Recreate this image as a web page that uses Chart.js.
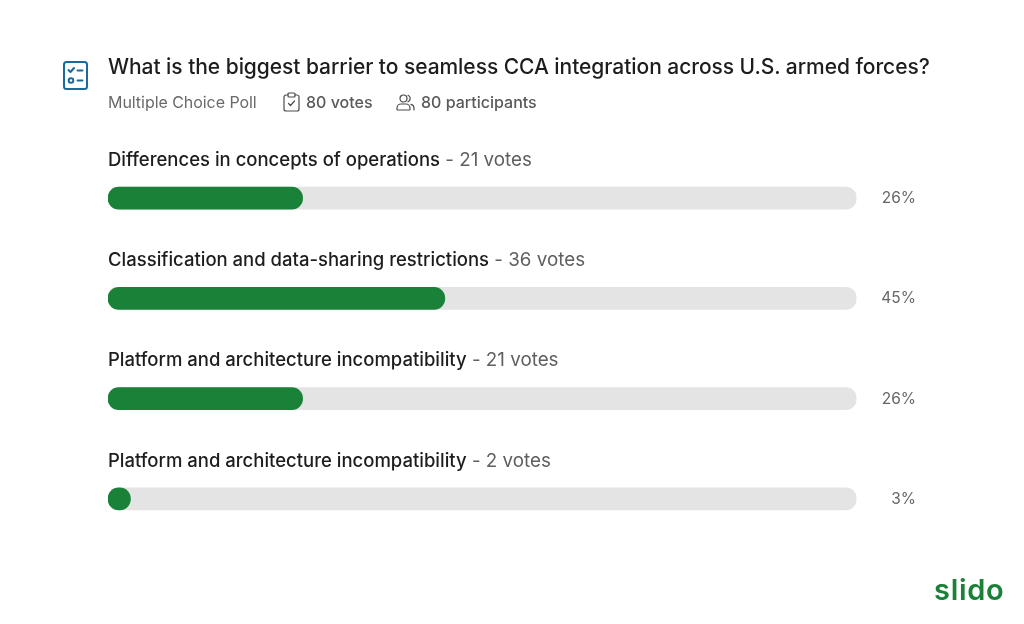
<!DOCTYPE html>
<html><head><meta charset="utf-8">
<style>
html,body{margin:0;padding:0;background:#fff;width:1024px;height:624px;overflow:hidden;font-family:Inter,sans-serif}
#wrap{position:relative;width:1024px;height:624px}
canvas{position:absolute;left:0;top:0}
.t{position:absolute;white-space:nowrap;line-height:1}
svg{position:absolute}
</style>
<script src="https://cdn.jsdelivr.net/npm/chart.js@4"></script>
</head><body><div id="wrap">
<canvas id="c" width="1024" height="624"></canvas>
<svg style="left:62px;top:60px" width="27" height="31" viewBox="0 0 27 31" fill="none" stroke="#1c6a9c" stroke-width="2" stroke-linecap="round" stroke-linejoin="round">
<rect x="2" y="2" width="23" height="27" rx="2.5"/><path d="M6.5 10l2 2 3.5-4M15.5 10.500h5M15.500 20.500h5"/><circle cx="9" cy="20.500" r="2.300"/></svg>
<div class="t" style="left:108px;top:56px;font-size:21px;font-weight:500;letter-spacing:-.05px;color:#1d1d1d">What is the biggest barrier to seamless CCA integration across U.S. armed forces?</div>
<div class="t" style="left:108px;top:94px;font-size:16px;letter-spacing:-.05px;color:#6a6a6a">Multiple Choice Poll</div>
<svg style="left:283px;top:92px" width="17" height="20" viewBox="0 0 17 20" fill="none" stroke="#4a4a4a" stroke-width="1.200" stroke-linecap="round" stroke-linejoin="round"><path d="M5 3H3a2 2 0 0 0-2 2v12a2 2 0 0 0 2 2h11a2 2 0 0 0 2-2V5a2 2 0 0 0-2-2h-2"/><rect x="5" y="1" width="7" height="4" rx="1"/><path d="M5.500 11.500l2 2 4-4.500"/></svg>
<div class="t" style="left:306px;top:94px;font-size:16px;font-weight:500;color:#5a5a5a">80 votes</div>
<svg style="left:396px;top:94px" width="19" height="17" viewBox="0 0 19 17" fill="none" stroke="#4a4a4a" stroke-width="1.200" stroke-linecap="round" stroke-linejoin="round"><circle cx="7.500" cy="4.500" r="3.500"/><path d="M1 15.500v-1.500a4 4 0 0 1 4-4h5a4 4 0 0 1 4 4v1.500a.5.5 0 0 1-.5.500h-12a.5.5 0 0 1-.5-.5zM12 1.300a3.500 3.500 0 0 1 0 6.500M15 10.300a4 4 0 0 1 3 3.700v2"/></svg>
<div class="t" style="left:421px;top:94px;font-size:16px;font-weight:500;color:#5a5a5a">80 participants</div>
<div class="t" style="left:934px;top:575px;font-size:29px;font-weight:600;color:#1a8139;letter-spacing:.7px">slido</div>
</div>
<script>
const categories=["Differences in concepts of operations","Classification and data-sharing restrictions","Platform and architecture incompatibility","Platform and architecture incompatibility"];
const votes=[21,36,21,2];
const percents=[26,45,26,3];
const track=[100,100,100,100];
const labelPlugin={id:'pollLabels',afterDatasetsDraw(ch){
  const g=ch.ctx,ys=ch.scales.y,right=916;
  g.save();g.textBaseline='alphabetic';
  categories.forEach((name,i)=>{
    const y=ys.getPixelForValue(i),x=ch.chartArea.left,by=Math.round(y-32.3);
    g.font='500 18.5px Inter';g.fillStyle='#1d1d1d';g.textAlign='left';g.fillText(name,x,by);
    const w=g.measureText(name).width;
    g.font='400 18.8px Inter';g.fillStyle='#5f5f5f';g.fillText(' - '+votes[i]+' votes',x+w,by);
    g.font='400 15.5px Inter';g.fillStyle='#666';g.textAlign='right';g.fillText(percents[i]+'%',right,Math.round(y+5));
  });
  g.restore();
}};
new Chart(document.getElementById('c'),{type:'bar',plugins:[labelPlugin],
 data:{labels:categories,datasets:[
  {label:'Share',data:percents,backgroundColor:'#1a8139',barThickness:22,borderRadius:11,borderSkipped:false,grouped:false,order:1},
  {label:'Track',data:track,backgroundColor:'#e4e4e4',barThickness:22,borderRadius:11,borderSkipped:false,grouped:false,order:2}
 ]},
 options:{indexAxis:'y',responsive:false,animation:false,
  layout:{padding:{left:108,right:167.500,top:148,bottom:75}},
  plugins:{legend:{display:false},tooltip:{enabled:false},title:{display:false}},
  scales:{x:{display:false,min:0,max:100},y:{display:false}}
 }});
</script></body></html>
